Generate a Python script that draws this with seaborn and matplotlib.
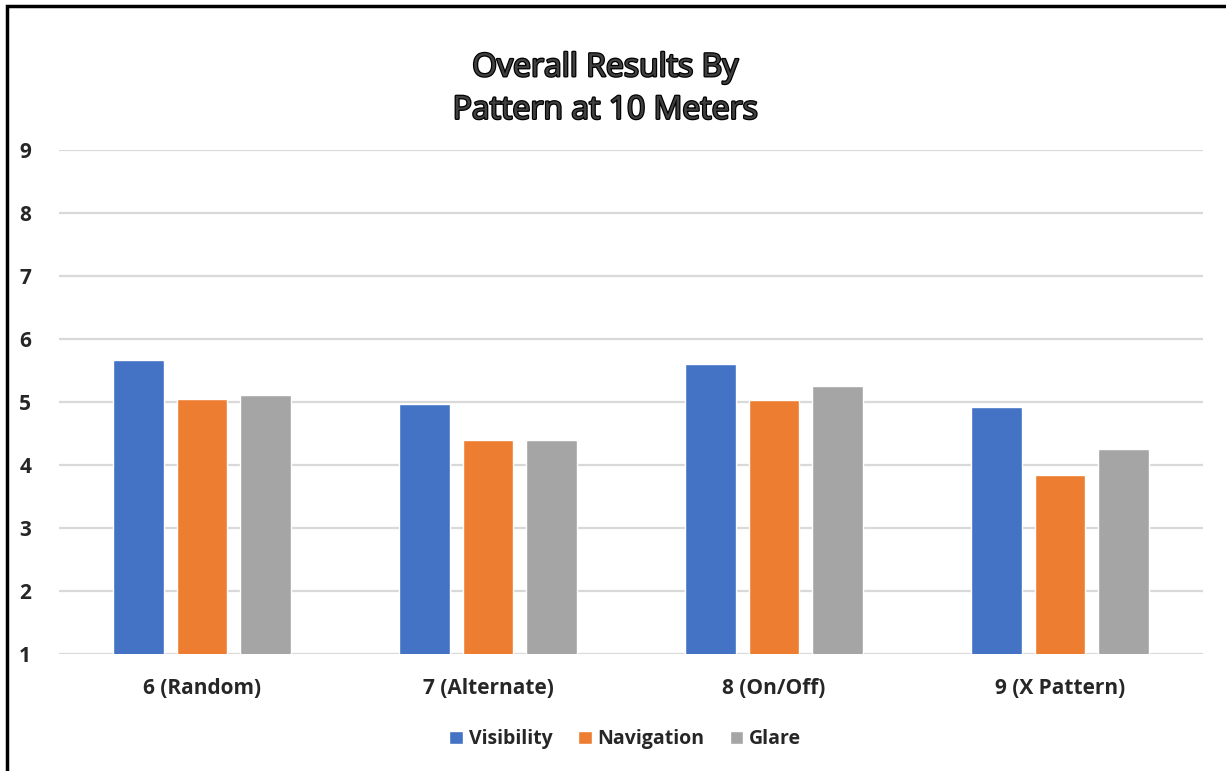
import numpy as np
import pandas as pd
import seaborn as sns
import matplotlib.pyplot as plt
import matplotlib.patheffects as pe
from matplotlib.patches import Rectangle

# values
patterns = ['6 (Random)', '7 (Alternate)', '8 (On/Off)', '9 (X Pattern)']
visibility = [5.67, 4.97, 5.60, 4.92]
navigation = [5.05, 4.40, 5.03, 3.84]
glare = [5.11, 4.40, 5.25, 4.25]
series = ['Visibility', 'Navigation', 'Glare']
colors = ['#4472C4', '#ED7D31', '#A5A5A5']
yticks = [1, 2, 3, 4, 5, 6, 7, 8, 9]

df = pd.DataFrame({'pattern': patterns * 3,
                   'score': visibility + navigation + glare,
                   'measure': np.repeat(series, len(patterns))})

sns.set_style('white')
plt.rcParams['font.family'] = ['Open Sans', 'DejaVu Sans']

fig = plt.figure(figsize=(12.26, 7.71), dpi=100)
ax = fig.add_axes([0.0481, 0.1518, 0.9332, 0.6537])

sns.barplot(data=df, x='pattern', y='score', hue='measure', palette=colors,
            width=0.666, gap=0.21, ax=ax, legend=True, saturation=1)

ax.set_ylim(1, 9)
ax.set_xlim(-0.5, 3.5)
ax.set_yticks(yticks)
ax.set_yticklabels([str(t) for t in yticks], fontsize=15, fontweight='bold')
ax.set_xticks(range(len(patterns)))
ax.set_xticklabels(patterns, fontsize=15, fontweight='bold')
ax.tick_params(axis='both', length=0)
ax.tick_params(axis='y', pad=20)
ax.tick_params(axis='x', pad=17)
ax.set_xlabel('')
ax.set_ylabel('')
ax.yaxis.grid(True, color='#d9d9d9', linewidth=1.6)
ax.set_axisbelow(True)
for s in ax.spines.values():
    s.set_visible(False)

leg = ax.legend(loc='upper center', bbox_to_anchor=(0.495, -0.115), ncol=3,
                frameon=False, prop={'size': 14, 'weight': 'bold'},
                handlelength=0.7, handleheight=0.7, handletextpad=0.3,
                columnspacing=1.3)

title = fig.text(0.494, 0.8846, 'Overall Results By\nPattern at 10 Meters',
                 ha='center', va='center', fontsize=23, color='#404040',
                 linespacing=1.38)
title.set_path_effects([pe.Stroke(linewidth=1.8, foreground='black'), pe.Normal()])

# outer chart frame (cropped on right/bottom)
fig.patches.append(Rectangle((7 / 1226, -0.1), 1.2, 1 - 6 / 771 + 0.1,
                             transform=fig.transFigure, fill=False,
                             edgecolor='black', linewidth=2.5))

fig.savefig('out.png', dpi=100)
